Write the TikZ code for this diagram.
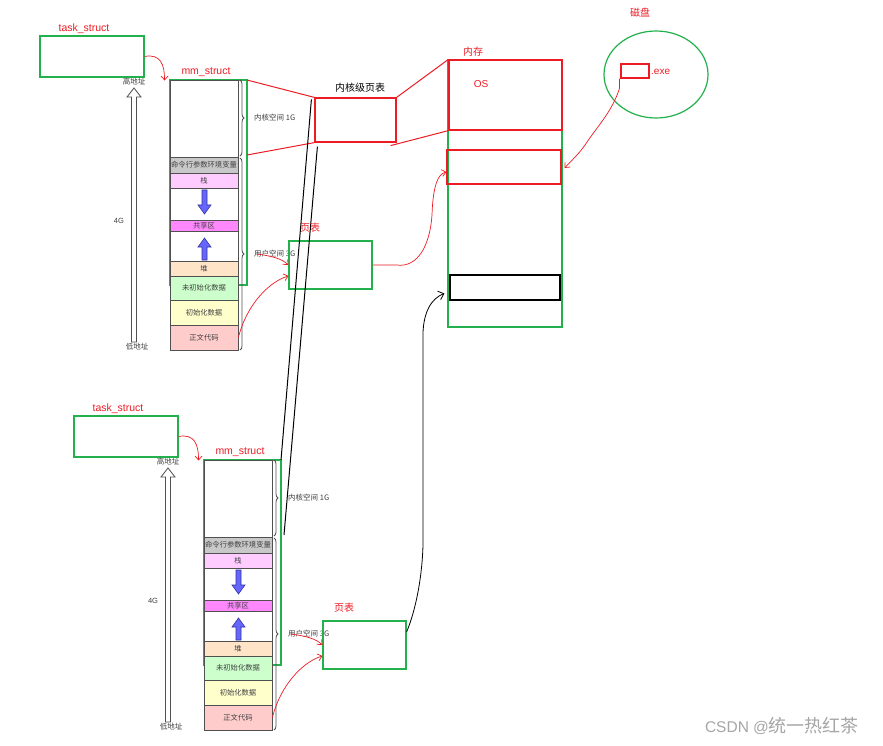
\documentclass[tikz,border=0pt]{standalone}
\usepackage{fontspec}
\setmainfont{Liberation Sans}
\newfontfamily\cjk{Noto Sans CJK SC}
\usetikzlibrary{arrows.meta,decorations.pathreplacing,shapes.geometric}
\definecolor{R}{HTML}{ED1C24}
\definecolor{G}{HTML}{22B14C}
\definecolor{boxgray}{HTML}{505050}
\definecolor{txtgray}{HTML}{404040}
\definecolor{cmdgray}{HTML}{C8C8C8}
\definecolor{stackpink}{HTML}{FFCCFF}
\definecolor{sharedmag}{HTML}{FF88FF}
\definecolor{heappeach}{HTML}{FFE4C8}
\definecolor{bssgreen}{HTML}{CCFFCC}
\definecolor{datayellow}{HTML}{FFFFCC}
\definecolor{textred}{HTML}{FFCCCC}
\definecolor{bluearrow}{HTML}{6666FF}
\definecolor{bluedark}{HTML}{333399}
\tikzset{
  grnbox/.style={draw=G, line width=1.2pt, inner sep=0pt},
  redbox/.style={draw=R, line width=1.2pt, inner sep=0pt},
  seg/.style={draw=boxgray, line width=0.8pt, minimum width=68pt, inner sep=0pt,
    font=\cjk\fontsize{7.3}{7.3}\selectfont, text=txtgray},
  graylbl/.style={font=\cjk\fontsize{7.5}{7.5}\selectfont, text=txtgray, inner sep=0pt},
  redlat/.style={font=\fontsize{10.5}{10.5}\selectfont, text=R, inner sep=0pt},
  redcjk/.style={font=\cjk\fontsize{10}{10}\selectfont, text=R, inner sep=0pt},
  rarrow/.style={draw=R, line width=0.7pt, -{Straight Barb[length=4pt,width=7pt]}},
  karrow/.style={draw=black, line width=0.8pt, -{Straight Barb[length=5pt,width=9pt]}},
  bracestyle/.style={draw=boxgray, line width=0.8pt, decorate, decoration={brace, amplitude=4pt}},
  bluearr/.style={fill=bluearrow, draw=bluedark, line width=0.6pt},
}
\newcommand\mmblock[1]{%
  \node[redlat] (#1tasklbl) at (84,29) {task\_struct};
  \node[grnbox, minimum width=104pt, minimum height=41pt] (#1task) at (92,56.5) {};
  \node[graylbl] (#1hi) at (134,82) {高地址};
  \node[graylbl] (#1lo) at (137,347) {低地址};
  \node[graylbl, font=\fontsize{7.5}{7.5}\selectfont] (#1fourg) at (119,221) {4G};
  \draw[boxgray, line width=0.8pt, fill=white] (131.5,342) -- (131.5,97) -- (127,97) -- (134,88)
     -- (141,97) -- (136.5,97) -- (136.5,342) -- cycle;
  \node[redlat] (#1mmlbl) at (206,72) {mm\_struct};
  \draw[G, line width=1.2pt] (170,80) rectangle (247,285);
  \node[draw=boxgray, fill=white, line width=0.9pt, minimum width=68pt, minimum height=270pt, inner sep=0pt] (#1mm) at (204,215) {};
  \node[seg, fill=cmdgray, minimum height=16pt] (#1cmd) at (204,165) {命令行参数环境变量};
  \node[seg, fill=stackpink, minimum height=15pt] (#1stack) at (204,180.5) {栈};
  \node[seg, fill=sharedmag, minimum height=11pt] (#1shared) at (204,225.5) {共享区};
  \node[seg, fill=heappeach, minimum height=15pt] (#1heap) at (204,268.5) {堆};
  \node[seg, fill=bssgreen, minimum height=24pt] (#1bss) at (204,288) {未初始化数据};
  \node[seg, fill=datayellow, minimum height=25pt] (#1data) at (204,312.5) {初始化数据};
  \node[seg, fill=textred, minimum height=25pt] (#1text) at (204,337.5) {正文代码};
  \draw[G, line width=1.2pt] (#1mm.north west) -- (#1mm.north east);
  \draw[bluearr] (202,190) -- (207,190) -- (207,205) -- (211,205) -- (204.5,214) -- (198,205) -- (202,205) -- cycle;
  \draw[bluearr] (202,260) -- (207,260) -- (207,247) -- (211,247) -- (204.5,238) -- (198,247) -- (202,247) -- cycle;
  \draw[bracestyle] (240,80) -- (240,156);
  \draw[bracestyle] (240,158) -- (240,350);
  \coordinate (#1kt) at (247,80);
  \coordinate (#1kb) at (247,155);
  \node[graylbl, anchor=west] (#1klbl) at (254,118) {内核空间 1G};
  \node[graylbl, anchor=west] (#1ulbl) at (254,254) {用户空间 3G};
  \node[redcjk] (#1ptlbl) at (310,228) {页表};
  \node[grnbox, minimum width=83pt, minimum height=48pt] (#1pt) at (330.5,265) {};
  \draw[rarrow] (#1task.east) .. controls +(16,-3) and +(0,-16) .. ([xshift=-5pt,yshift=-1pt]#1mm.north west);
  \draw[rarrow] ([xshift=3pt]#1ulbl.west) .. controls +(15,2) and +(-6,-6) .. (#1pt.west);
  \draw[rarrow] (#1text.east) .. controls +(8,-32) and +(-20,6) .. ([yshift=-11pt]#1pt.west);
}
\begin{document}
\begin{tikzpicture}[x=1pt,y=-1pt]
\useasboundingbox[fill=white] (0,0) rectangle (883,746);

\mmblock{t1}
\begin{scope}[shift={(34,380)}]
\mmblock{b1}
\end{scope}

% kernel page table
\node[font=\cjk\fontsize{10}{10}\selectfont, inner sep=0pt] (kptlbl) at (360,88) {内核级页表};
\node[redbox, minimum width=81pt, minimum height=44pt] (kpt) at (355.5,120) {};

% memory
\node[redcjk] (memlbl) at (473,52) {内存};
\node[grnbox, minimum width=114pt, minimum height=267pt] (mem) at (505,193.5) {};
\node[redbox, minimum width=113pt, minimum height=70pt] (os) at (505.5,95) {};
\node[font=\fontsize{10}{10}\selectfont, text=R, inner sep=0pt] (oslbl) at (481,84) {OS};
\node[redbox, minimum width=114pt, minimum height=34pt] (box2) at (504,167) {};
\node[draw=black, line width=1.2pt, inner sep=0pt, minimum width=110pt, minimum height=25pt] (blk) at (505,287.5) {};

% disk
\node[redcjk] (disklbl) at (640,13) {磁盘};
\node[ellipse, draw=G, line width=1.2pt, minimum width=104pt, minimum height=87pt, inner sep=0pt] (disk) at (656,74.5) {};
\node[redbox, minimum width=28pt, minimum height=14pt] (exe) at (635,71) {};
\node[font=\fontsize{10}{10}\selectfont, text=R, inner sep=0pt, anchor=west] (exelbl) at (651,72) {.exe};

% red connectors top
\draw[R, line width=1pt] (t1kt) -- (kpt.north west);
\draw[R, line width=1pt] (t1kb) -- (kpt.south west);
\draw[R, line width=1pt] (kpt.north east) -- (os.north west);
\draw[R, line width=1pt] ([xshift=-6pt,yshift=-3pt]kpt.south east) -- (os.south west);

% black lines from kernel page table to lower mm_struct
\draw[black, line width=1pt] ([shift={(-3pt,-2pt)}]kpt.north west) -- (b1kt);
\draw[black, line width=1pt] ([shift={(3pt,-4pt)}]kpt.south west) -- ([xshift=3pt]b1kb);

% page table -> memory
\draw[rarrow] (t1pt.east) -- ++(24,0) .. controls (418,268) and (430,245) .. (432,215)
   .. controls (433,185) and (438,174) .. ([yshift=-5pt]box2.west);
% disk -> memory
\draw[rarrow] ([xshift=-1pt]exe.south west) -- ++(0,10) .. controls (612,112) and (596,128) .. (585,145)
   .. controls (578,155) and (570,162) .. ([xshift=3pt,yshift=-1pt]box2.east);
% lower page table -> memory
\draw[karrow] ([yshift=13pt]b1pt.east) .. controls (415,612) and (422,580) .. (423,545)
   -- (423,340) .. controls (422,312) and (432,298) .. ([xshift=-5pt,yshift=-6pt]blk.west);

% watermark
\node[text=gray!70, inner sep=0pt] (wm) at (782,726)
  {{\fontsize{15.5}{16}\selectfont CSDN @}{\cjk\fontsize{18}{18}\selectfont 统一热红茶}};
\end{tikzpicture}
\end{document}
